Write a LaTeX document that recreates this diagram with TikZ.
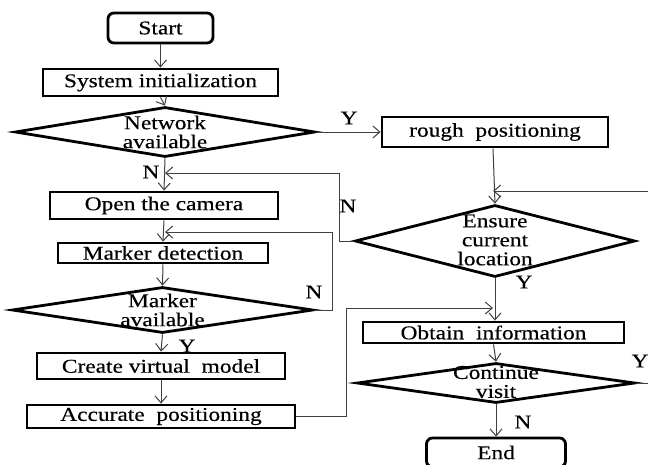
\documentclass[tikz,border=0pt]{standalone}
\usepackage{fontspec}
\setmainfont{Liberation Serif}[FakeStretch=1.2,FakeBold=0.35]
\usetikzlibrary{shapes.geometric,arrows.meta}
\begin{document}
\begin{tikzpicture}[x=1pt,y=-1pt,
  txt/.style={font=\fontsize{19.5}{19}\selectfont},
  boxx/.style={draw=black, line width=2.8pt, rectangle, inner sep=0pt, txt},
  term/.style={boxx, rounded corners=6pt},
  dia/.style={draw=black, line width=2.8pt, diamond, inner sep=0pt, txt},
  conn/.style={draw=black!75, line width=1pt, -{Straight Barb[length=7pt,width=12pt,line width=1pt]}},
  plain/.style={draw=black!75, line width=1pt},
  lbl/.style={txt, inner sep=0pt}]
\useasboundingbox (0,0) rectangle (648,464);
\clip (0,0) rectangle (648,464);
\fill[white] (0,0) rectangle (648,464);

% left column
\node[term, minimum width=105pt, minimum height=30pt] (start) at (160.5,28) {Start};
\node[boxx, minimum width=235pt, minimum height=27pt] (sys) at (160.5,82.5) {System initialization};
\node[dia, minimum width=300pt, minimum height=50pt,
  label={[txt, align=center, inner sep=0pt]center:Network\\available}] (net) at (165,132) {};
\node[boxx, minimum width=228pt, minimum height=27pt] (cam) at (164,205.5) {Open the camera};
\node[boxx, minimum width=210pt, minimum height=20pt] (mdet) at (163,253) {Marker detection};
\node[dia, minimum width=301pt, minimum height=46pt,
  label={[txt, align=center, inner sep=0pt]center:Marker\\available}] (mav) at (162.5,310) {};
\node[boxx, minimum width=248pt, minimum height=26pt] (cvm) at (161,366) {Create virtual\ \ model};
\node[boxx, minimum width=268pt, minimum height=23pt] (acc) at (161,416.5) {Accurate\ \ positioning};

% right column
\node[boxx, minimum width=226pt, minimum height=30pt] (rough) at (495,132) {rough\ \ positioning};
\node[dia, minimum width=280pt, minimum height=72pt,
  label={[txt, align=center, inner sep=0pt, yshift=1pt]center:Ensure\\current\\location}] (ens) at (495,241) {};
\node[boxx, minimum width=261pt, minimum height=21pt] (obt) at (493.5,332.5) {Obtain\ \ information};
\node[dia, minimum width=278pt, minimum height=40pt,
  label={[txt, align=center, inner sep=0pt, yshift=1pt]center:Continue\\visit}] (cont) at (496,383) {};
\node[term, minimum width=139pt, minimum height=29pt] (end) at (496,452.5) {End};

% helper coordinates
\coordinate (nj) at (165,173);
\coordinate (mj) at (165,232);
\coordinate (ej) at (493,191);
\coordinate (oj) at (493,308);
\coordinate (rt1) at (660,383);
\coordinate (rt2) at (660,191);

% connectors left
\draw[conn] (start.south) -- (sys.north);
\draw[conn] (sys.south) -- (net.north);
\draw[conn] (net.south) -- (cam.north);
\draw[conn] (cam.south) -- (mdet.north);
\draw[conn] (mdet.south) -- (mav.north);
\draw[conn] (mav.south) -- (cvm.north);
\draw[conn] (cvm.south) -- (acc.north);

% network Y -> rough
\draw[conn] (net.east) -- (rough.west);
% rough -> ensure
\draw[conn] (rough.south -| ej) -- (ens.north);
% ensure N loop -> open camera
\draw[conn] (ens.west) -- (339,241) -- (339,173) -- (nj);
% marker N loop
\draw[conn] (mav.east) -- (332,310) -- (332,232) -- (mj);
% accurate -> obtain
\draw[conn] (acc.east) -- (346,416.5) -- (346,308) -- (oj);
% ensure Y -> obtain
\draw[conn] (ens.south) -- (obt.north -| ens.south);
\draw[conn] (obt.south) -- (cont.north);
\draw[conn] (cont.south) -- (end.north);
% continue Y loop (cropped at right edge)
\draw[plain] (cont.east) -- (rt1) -- (rt2);
\draw[conn] (rt2) -- (ej);

% labels
\node[lbl] at (349,118) {Y};
\node[lbl] at (151,172) {N};
\node[lbl] at (348,206) {N};
\node[lbl] at (314,292) {N};
\node[lbl] at (187,346) {Y};
\node[lbl] at (524,282) {Y};
\node[lbl] at (523,422) {N};
\node[lbl] at (640,361) {Y};
\end{tikzpicture}
\end{document}
